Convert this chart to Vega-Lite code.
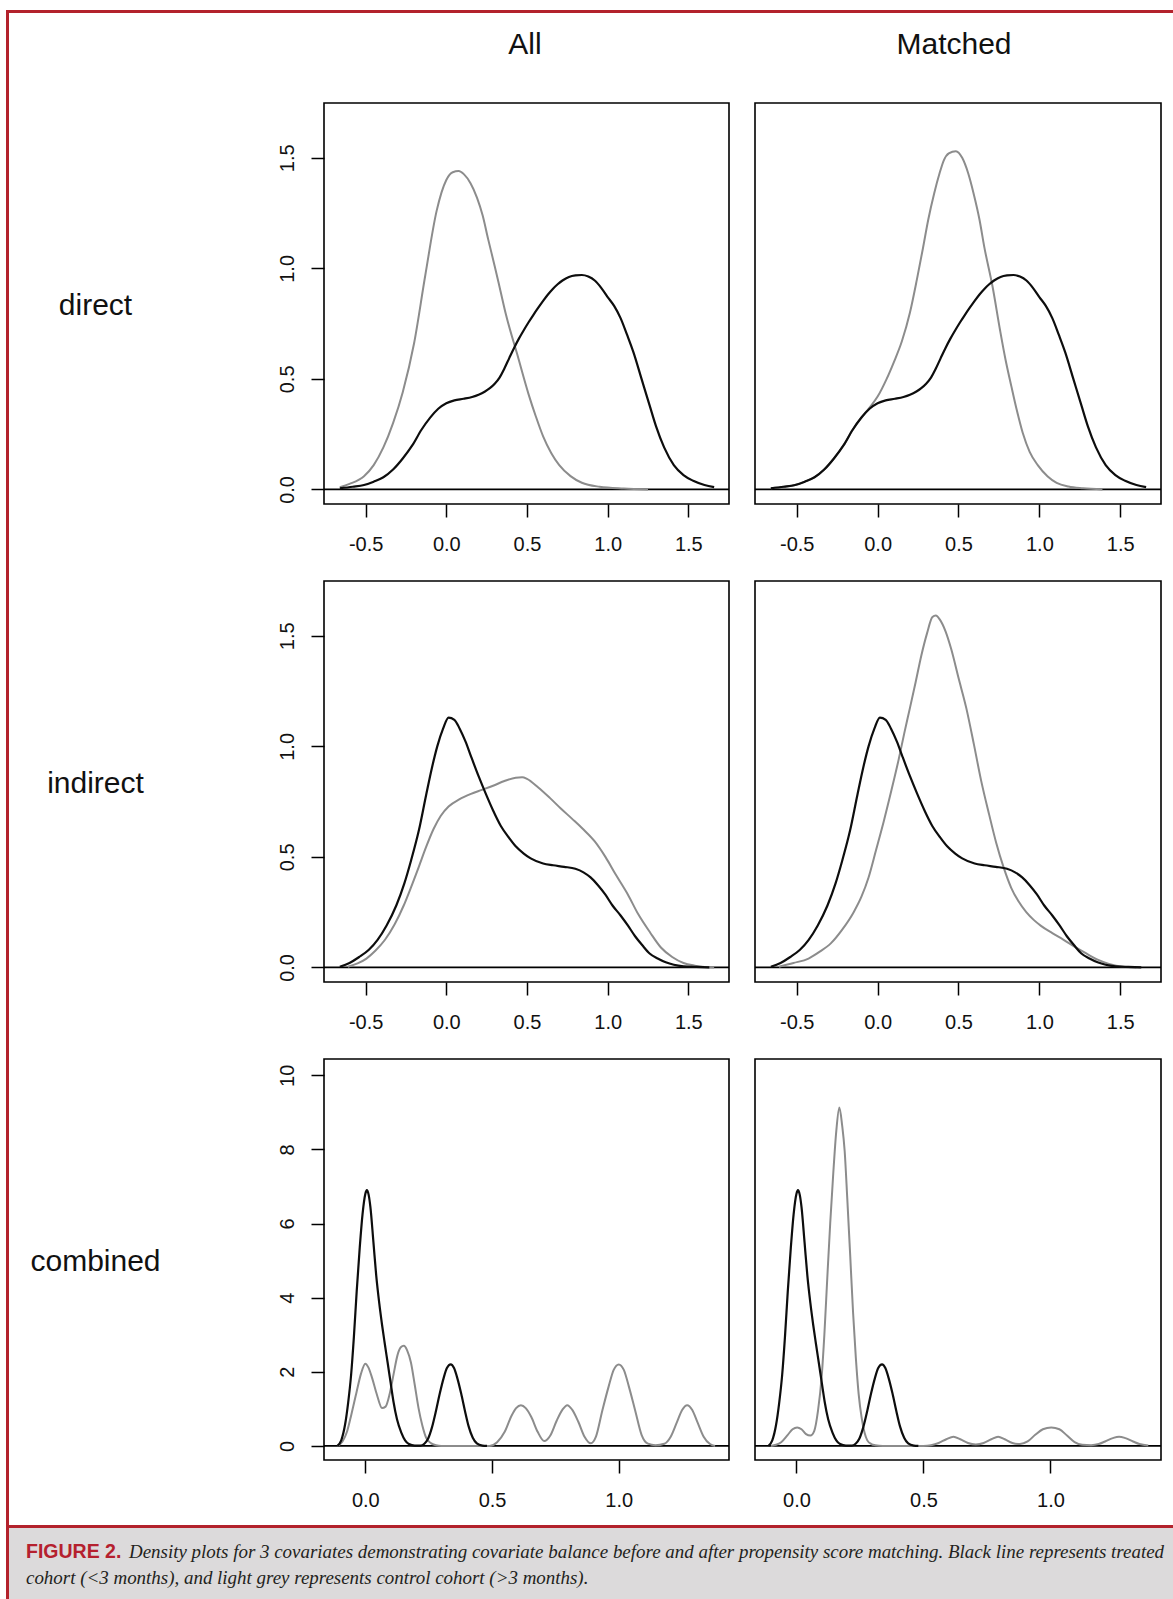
{
  "$schema": "https://vega.github.io/schema/vega-lite/v6.json",
  "padding": {"left": 6, "top": 10, "right": 0, "bottom": 0},
  "background": "#ffffff",
  "spacing": 0,
  "datasets": {
    "direct_treated": [
      {"x":-0.66,"y":0.005},{"x":-0.58,"y":0.012},{"x":-0.51,"y":0.02},{"x":-0.45,"y":0.035},{"x":-0.39,"y":0.055},{"x":-0.33,"y":0.09},{"x":-0.27,"y":0.14},{"x":-0.21,"y":0.2},{"x":-0.154,"y":0.27},{"x":-0.1,"y":0.325},{"x":-0.05,"y":0.365},{"x":0.0,"y":0.39},{"x":0.05,"y":0.403},{"x":0.107,"y":0.41},{"x":0.16,"y":0.418},{"x":0.2,"y":0.428},{"x":0.24,"y":0.443},{"x":0.27,"y":0.458},{"x":0.3,"y":0.478},{"x":0.33,"y":0.506},{"x":0.36,"y":0.547},{"x":0.39,"y":0.594},{"x":0.42,"y":0.64},{"x":0.45,"y":0.682},{"x":0.48,"y":0.72},{"x":0.51,"y":0.756},{"x":0.54,"y":0.79},{"x":0.57,"y":0.822},{"x":0.6,"y":0.853},{"x":0.63,"y":0.882},{"x":0.66,"y":0.907},{"x":0.69,"y":0.928},{"x":0.72,"y":0.945},{"x":0.76,"y":0.961},{"x":0.8,"y":0.968},{"x":0.84,"y":0.97},{"x":0.88,"y":0.963},{"x":0.92,"y":0.945},{"x":0.96,"y":0.912},{"x":1.0,"y":0.87},{"x":1.04,"y":0.83},{"x":1.08,"y":0.775},{"x":1.12,"y":0.7},{"x":1.16,"y":0.62},{"x":1.21,"y":0.5},{"x":1.26,"y":0.38},{"x":1.3,"y":0.285},{"x":1.35,"y":0.19},{"x":1.41,"y":0.11},{"x":1.47,"y":0.065},{"x":1.53,"y":0.039},{"x":1.6,"y":0.02},{"x":1.66,"y":0.01}
    ],
    "direct_control_all": [
      {"x":-0.66,"y":0.01},{"x":-0.6,"y":0.025},{"x":-0.51,"y":0.06},{"x":-0.45,"y":0.11},{"x":-0.39,"y":0.19},{"x":-0.33,"y":0.3},{"x":-0.27,"y":0.44},{"x":-0.2,"y":0.66},{"x":-0.13,"y":0.97},{"x":-0.06,"y":1.26},{"x":0.0,"y":1.4},{"x":0.04,"y":1.435},{"x":0.076,"y":1.44},{"x":0.11,"y":1.425},{"x":0.15,"y":1.385},{"x":0.19,"y":1.32},{"x":0.225,"y":1.24},{"x":0.26,"y":1.13},{"x":0.3,"y":1.01},{"x":0.335,"y":0.9},{"x":0.37,"y":0.79},{"x":0.44,"y":0.61},{"x":0.51,"y":0.43},{"x":0.555,"y":0.33},{"x":0.6,"y":0.24},{"x":0.65,"y":0.165},{"x":0.7,"y":0.11},{"x":0.77,"y":0.06},{"x":0.84,"y":0.03},{"x":0.95,"y":0.012},{"x":1.1,"y":0.004},{"x":1.25,"y":0.0}
    ],
    "direct_control_matched": [
      {"x":-0.66,"y":0.005},{"x":-0.58,"y":0.012},{"x":-0.51,"y":0.02},{"x":-0.45,"y":0.035},{"x":-0.39,"y":0.055},{"x":-0.33,"y":0.09},{"x":-0.27,"y":0.14},{"x":-0.21,"y":0.2},{"x":-0.154,"y":0.27},{"x":-0.1,"y":0.325},{"x":-0.05,"y":0.37},{"x":0.0,"y":0.42},{"x":0.056,"y":0.5},{"x":0.1,"y":0.575},{"x":0.15,"y":0.67},{"x":0.2,"y":0.8},{"x":0.243,"y":0.95},{"x":0.28,"y":1.09},{"x":0.313,"y":1.22},{"x":0.35,"y":1.34},{"x":0.383,"y":1.43},{"x":0.41,"y":1.49},{"x":0.44,"y":1.52},{"x":0.484,"y":1.53},{"x":0.523,"y":1.5},{"x":0.56,"y":1.43},{"x":0.593,"y":1.34},{"x":0.63,"y":1.22},{"x":0.66,"y":1.095},{"x":0.71,"y":0.92},{"x":0.757,"y":0.72},{"x":0.79,"y":0.59},{"x":0.827,"y":0.466},{"x":0.86,"y":0.36},{"x":0.897,"y":0.256},{"x":0.94,"y":0.17},{"x":0.99,"y":0.11},{"x":1.05,"y":0.06},{"x":1.107,"y":0.03},{"x":1.18,"y":0.013},{"x":1.27,"y":0.005},{"x":1.39,"y":0.0}
    ],
    "indirect_treated": [
      {"x":-0.66,"y":0.003},{"x":-0.6,"y":0.02},{"x":-0.54,"y":0.047},{"x":-0.48,"y":0.08},{"x":-0.426,"y":0.125},{"x":-0.37,"y":0.19},{"x":-0.31,"y":0.28},{"x":-0.26,"y":0.38},{"x":-0.218,"y":0.485},{"x":-0.17,"y":0.62},{"x":-0.125,"y":0.78},{"x":-0.09,"y":0.9},{"x":-0.056,"y":1.0},{"x":-0.02,"y":1.08},{"x":0.014,"y":1.13},{"x":0.05,"y":1.12},{"x":0.083,"y":1.08},{"x":0.12,"y":1.02},{"x":0.153,"y":0.955},{"x":0.2,"y":0.865},{"x":0.245,"y":0.785},{"x":0.29,"y":0.71},{"x":0.338,"y":0.64},{"x":0.385,"y":0.59},{"x":0.43,"y":0.548},{"x":0.48,"y":0.515},{"x":0.523,"y":0.493},{"x":0.6,"y":0.47},{"x":0.662,"y":0.462},{"x":0.73,"y":0.455},{"x":0.8,"y":0.446},{"x":0.85,"y":0.43},{"x":0.894,"y":0.407},{"x":0.94,"y":0.372},{"x":0.986,"y":0.329},{"x":1.03,"y":0.28},{"x":1.08,"y":0.235},{"x":1.125,"y":0.19},{"x":1.17,"y":0.141},{"x":1.215,"y":0.1},{"x":1.26,"y":0.063},{"x":1.31,"y":0.04},{"x":1.36,"y":0.023},{"x":1.41,"y":0.012},{"x":1.47,"y":0.005},{"x":1.55,"y":0.002},{"x":1.63,"y":0.0}
    ],
    "indirect_control_all": [
      {"x":-0.61,"y":0.003},{"x":-0.55,"y":0.018},{"x":-0.495,"y":0.04},{"x":-0.44,"y":0.075},{"x":-0.38,"y":0.125},{"x":-0.32,"y":0.195},{"x":-0.264,"y":0.28},{"x":-0.22,"y":0.36},{"x":-0.171,"y":0.454},{"x":-0.125,"y":0.545},{"x":-0.079,"y":0.626},{"x":-0.035,"y":0.685},{"x":0.014,"y":0.728},{"x":0.08,"y":0.76},{"x":0.153,"y":0.785},{"x":0.22,"y":0.803},{"x":0.29,"y":0.822},{"x":0.36,"y":0.843},{"x":0.43,"y":0.858},{"x":0.47,"y":0.86},{"x":0.5,"y":0.853},{"x":0.57,"y":0.814},{"x":0.64,"y":0.768},{"x":0.708,"y":0.72},{"x":0.78,"y":0.672},{"x":0.847,"y":0.626},{"x":0.92,"y":0.57},{"x":0.986,"y":0.5},{"x":1.05,"y":0.42},{"x":1.125,"y":0.33},{"x":1.19,"y":0.24},{"x":1.264,"y":0.157},{"x":1.33,"y":0.09},{"x":1.4,"y":0.047},{"x":1.47,"y":0.02},{"x":1.54,"y":0.008},{"x":1.6,"y":0.002},{"x":1.66,"y":0.0}
    ],
    "indirect_control_matched": [
      {"x":-0.61,"y":0.003},{"x":-0.52,"y":0.02},{"x":-0.427,"y":0.04},{"x":-0.36,"y":0.07},{"x":-0.288,"y":0.11},{"x":-0.22,"y":0.17},{"x":-0.148,"y":0.25},{"x":-0.1,"y":0.32},{"x":-0.056,"y":0.407},{"x":-0.01,"y":0.53},{"x":0.037,"y":0.658},{"x":0.085,"y":0.8},{"x":0.13,"y":0.94},{"x":0.165,"y":1.06},{"x":0.2,"y":1.174},{"x":0.235,"y":1.29},{"x":0.27,"y":1.41},{"x":0.305,"y":1.51},{"x":0.339,"y":1.585},{"x":0.36,"y":1.592},{"x":0.385,"y":1.573},{"x":0.42,"y":1.52},{"x":0.455,"y":1.44},{"x":0.5,"y":1.31},{"x":0.548,"y":1.174},{"x":0.595,"y":1.01},{"x":0.64,"y":0.845},{"x":0.69,"y":0.69},{"x":0.733,"y":0.564},{"x":0.78,"y":0.45},{"x":0.826,"y":0.36},{"x":0.87,"y":0.3},{"x":0.919,"y":0.25},{"x":0.965,"y":0.215},{"x":1.01,"y":0.188},{"x":1.08,"y":0.155},{"x":1.15,"y":0.125},{"x":1.22,"y":0.093},{"x":1.29,"y":0.063},{"x":1.36,"y":0.035},{"x":1.43,"y":0.016},{"x":1.52,"y":0.003},{"x":1.6,"y":0.0}
    ],
    "combined_treated": [
      {"x":-0.11,"y":0.0},{"x":-0.095,"y":0.15},{"x":-0.08,"y":0.57},{"x":-0.068,"y":1.15},{"x":-0.056,"y":1.92},{"x":-0.045,"y":2.95},{"x":-0.034,"y":4.17},{"x":-0.022,"y":5.35},{"x":-0.011,"y":6.25},{"x":0.0,"y":6.8},{"x":0.006,"y":6.9},{"x":0.013,"y":6.78},{"x":0.02,"y":6.45},{"x":0.032,"y":5.5},{"x":0.043,"y":4.6},{"x":0.055,"y":3.85},{"x":0.066,"y":3.27},{"x":0.077,"y":2.75},{"x":0.088,"y":2.25},{"x":0.1,"y":1.7},{"x":0.111,"y":1.2},{"x":0.125,"y":0.72},{"x":0.142,"y":0.36},{"x":0.157,"y":0.15},{"x":0.172,"y":0.05},{"x":0.195,"y":0.01},{"x":0.218,"y":0.01},{"x":0.233,"y":0.06},{"x":0.248,"y":0.2},{"x":0.263,"y":0.5},{"x":0.279,"y":0.95},{"x":0.294,"y":1.42},{"x":0.309,"y":1.83},{"x":0.322,"y":2.1},{"x":0.337,"y":2.2},{"x":0.35,"y":2.1},{"x":0.363,"y":1.83},{"x":0.378,"y":1.42},{"x":0.393,"y":0.95},{"x":0.408,"y":0.52},{"x":0.424,"y":0.22},{"x":0.44,"y":0.07},{"x":0.462,"y":0.01},{"x":0.48,"y":0.0}
    ],
    "combined_control_all": [
      {"x":-0.11,"y":0.0},{"x":-0.09,"y":0.12},{"x":-0.072,"y":0.39},{"x":-0.055,"y":0.85},{"x":-0.034,"y":1.47},{"x":-0.017,"y":1.95},{"x":0.0,"y":2.22},{"x":0.012,"y":2.12},{"x":0.027,"y":1.83},{"x":0.045,"y":1.4},{"x":0.066,"y":1.02},{"x":0.08,"y":1.06},{"x":0.096,"y":1.4},{"x":0.112,"y":1.95},{"x":0.127,"y":2.45},{"x":0.14,"y":2.66},{"x":0.152,"y":2.7},{"x":0.165,"y":2.58},{"x":0.18,"y":2.25},{"x":0.195,"y":1.65},{"x":0.21,"y":1.02},{"x":0.225,"y":0.55},{"x":0.24,"y":0.22},{"x":0.26,"y":0.07},{"x":0.279,"y":0.02},{"x":0.3,"y":0.0},{"x":0.49,"y":0.0},{"x":0.52,"y":0.1},{"x":0.55,"y":0.38},{"x":0.576,"y":0.8},{"x":0.595,"y":1.02},{"x":0.614,"y":1.1},{"x":0.633,"y":1.02},{"x":0.655,"y":0.78},{"x":0.68,"y":0.38},{"x":0.706,"y":0.13},{"x":0.73,"y":0.28},{"x":0.755,"y":0.68},{"x":0.778,"y":0.98},{"x":0.797,"y":1.1},{"x":0.816,"y":0.98},{"x":0.84,"y":0.66},{"x":0.865,"y":0.25},{"x":0.89,"y":0.07},{"x":0.91,"y":0.25},{"x":0.935,"y":0.95},{"x":0.96,"y":1.6},{"x":0.98,"y":2.05},{"x":1.0,"y":2.2},{"x":1.02,"y":2.05},{"x":1.04,"y":1.6},{"x":1.065,"y":0.95},{"x":1.09,"y":0.3},{"x":1.115,"y":0.06},{"x":1.145,"y":0.02},{"x":1.18,"y":0.06},{"x":1.205,"y":0.25},{"x":1.23,"y":0.65},{"x":1.25,"y":0.97},{"x":1.27,"y":1.1},{"x":1.29,"y":0.97},{"x":1.31,"y":0.65},{"x":1.335,"y":0.25},{"x":1.36,"y":0.05},{"x":1.38,"y":0.0}
    ],
    "combined_control_matched": [
      {"x":-0.1,"y":0.0},{"x":-0.08,"y":0.03},{"x":-0.06,"y":0.1},{"x":-0.034,"y":0.3},{"x":-0.015,"y":0.45},{"x":0.003,"y":0.5},{"x":0.02,"y":0.45},{"x":0.038,"y":0.32},{"x":0.055,"y":0.28},{"x":0.07,"y":0.4},{"x":0.085,"y":0.95},{"x":0.1,"y":1.92},{"x":0.11,"y":3.0},{"x":0.122,"y":4.6},{"x":0.133,"y":6.0},{"x":0.145,"y":7.35},{"x":0.157,"y":8.5},{"x":0.169,"y":9.13},{"x":0.18,"y":8.65},{"x":0.19,"y":7.95},{"x":0.2,"y":6.7},{"x":0.212,"y":5.1},{"x":0.223,"y":3.6},{"x":0.234,"y":2.37},{"x":0.245,"y":1.4},{"x":0.257,"y":0.75},{"x":0.268,"y":0.36},{"x":0.279,"y":0.15},{"x":0.295,"y":0.05},{"x":0.31,"y":0.02},{"x":0.34,"y":0.0},{"x":0.5,"y":0.0},{"x":0.53,"y":0.02},{"x":0.56,"y":0.08},{"x":0.59,"y":0.18},{"x":0.618,"y":0.25},{"x":0.645,"y":0.18},{"x":0.675,"y":0.08},{"x":0.706,"y":0.04},{"x":0.737,"y":0.08},{"x":0.767,"y":0.18},{"x":0.794,"y":0.25},{"x":0.82,"y":0.18},{"x":0.85,"y":0.08},{"x":0.88,"y":0.05},{"x":0.91,"y":0.12},{"x":0.94,"y":0.3},{"x":0.97,"y":0.45},{"x":1.003,"y":0.5},{"x":1.035,"y":0.45},{"x":1.065,"y":0.28},{"x":1.095,"y":0.1},{"x":1.125,"y":0.03},{"x":1.16,"y":0.02},{"x":1.19,"y":0.05},{"x":1.215,"y":0.12},{"x":1.245,"y":0.21},{"x":1.27,"y":0.25},{"x":1.295,"y":0.21},{"x":1.325,"y":0.12},{"x":1.35,"y":0.05},{"x":1.385,"y":0.01}
    ]
  },
  "vconcat": [
    {"data": {"values": [{"edge": "top"}]}, "mark": {"type": "rect", "color": "#b3222c"}, "width": 1167, "height": 3, "view": {"stroke": null}},
    {
      "columns": 4,
      "bounds": "flush",
      "align": "each",
      "spacing": {"row": 0, "column": 26},
      "concat": [
        {"data": {"values": [{"edge": "left"}]}, "mark": {"type": "rect", "color": "#b3222c"}, "width": 3, "height": 90, "view": {"stroke": null}},
        {"data": {"values": []}, "mark": "rect", "width": 263, "height": 90, "view": {"stroke": null}},
        {"data": {"values": [{"label": "All"}]}, "mark": {"type": "text", "font": "Liberation Sans", "fontSize": 30, "baseline": "alphabetic", "align": "center", "dy": -4, "dx": -1.5, "color": "#111111"}, "encoding": {"text": {"field": "label", "type": "nominal"}}, "width": 405, "height": 90, "view": {"stroke": null}},
        {"data": {"values": [{"label": "Matched"}]}, "mark": {"type": "text", "font": "Liberation Sans", "fontSize": 30, "baseline": "alphabetic", "align": "center", "dy": -4, "dx": -4, "color": "#111111"}, "encoding": {"text": {"field": "label", "type": "nominal"}}, "width": 406, "height": 90, "view": {"stroke": null}},

        {"data": {"values": [{"edge": "left"}]}, "mark": {"type": "rect", "color": "#b3222c"}, "width": 3, "height": 401, "view": {"stroke": null}},
        {"data": {"values": []}, "mark": "rect", "width": 263, "height": 401, "view": {"stroke": null}},
        {
          "width": 405, "height": 401,
          "layer": [
            {"data": {"values": [{"y": 0}]}, "mark": {"type": "rule", "color": "#000000", "strokeWidth": 1.6},
             "encoding": {"y": {"field": "y", "type": "quantitative", "scale": {"domain": [-0.066, 1.748], "nice": false, "zero": false}, "axis": {"values": [0, 0.5, 1, 1.5], "labelExpr": "format(datum.value, '.1f')", "labelAngle": 270, "labelAlign": "center", "labelBaseline": "alphabetic", "labelPadding": 17.5, "title": "direct", "titleAngle": 0, "titleAlign": "center", "titleBaseline": "middle", "titleX": -229, "titleY": 202, "titleFontSize": 30, "titleFontWeight": "normal", "titleFont": "Liberation Sans", "titleColor": "#111111"}}}},
            {"data": {"name": "direct_control_all"}, "mark": {"type": "line", "color": "#8c8c8c", "strokeWidth": 2, "interpolate": "monotone"},
             "encoding": {
               "x": {"field": "x", "type": "quantitative", "scale": {"domain": [-0.758, 1.752], "nice": false, "zero": false}, "axis": {"values": [-0.5, 0, 0.5, 1, 1.5], "labelExpr": "replace(format(datum.value, '.1f'), '−', '-')", "labelAngle": 0, "labelAlign": "center", "labelBaseline": "alphabetic", "labelPadding": 33, "title": null}},
               "y": {"field": "y", "type": "quantitative", "scale": {"domain": [-0.066, 1.748], "nice": false, "zero": false}, "axis": {"values": [0, 0.5, 1, 1.5], "labelExpr": "format(datum.value, '.1f')", "labelAngle": 270, "labelAlign": "center", "labelBaseline": "alphabetic", "labelPadding": 17.5, "title": "direct", "titleAngle": 0, "titleAlign": "center", "titleBaseline": "middle", "titleX": -229, "titleY": 202, "titleFontSize": 30, "titleFontWeight": "normal", "titleFont": "Liberation Sans", "titleColor": "#111111"}}}},
            {"data": {"name": "direct_treated"}, "mark": {"type": "line", "color": "#0d0d0d", "strokeWidth": 2.2, "interpolate": "monotone"},
             "encoding": {
               "x": {"field": "x", "type": "quantitative", "scale": {"domain": [-0.758, 1.752], "nice": false, "zero": false}, "axis": {"values": [-0.5, 0, 0.5, 1, 1.5], "labelExpr": "replace(format(datum.value, '.1f'), '−', '-')", "labelAngle": 0, "labelAlign": "center", "labelBaseline": "alphabetic", "labelPadding": 33, "title": null}},
               "y": {"field": "y", "type": "quantitative", "scale": {"domain": [-0.066, 1.748], "nice": false, "zero": false}, "axis": {"values": [0, 0.5, 1, 1.5], "labelExpr": "format(datum.value, '.1f')", "labelAngle": 270, "labelAlign": "center", "labelBaseline": "alphabetic", "labelPadding": 17.5, "title": "direct", "titleAngle": 0, "titleAlign": "center", "titleBaseline": "middle", "titleX": -229, "titleY": 202, "titleFontSize": 30, "titleFontWeight": "normal", "titleFont": "Liberation Sans", "titleColor": "#111111"}}}}
          ]
        },
        {
          "width": 406, "height": 401,
          "layer": [
            {"data": {"values": [{"y": 0}]}, "mark": {"type": "rule", "color": "#000000", "strokeWidth": 1.6},
             "encoding": {"y": {"field": "y", "type": "quantitative", "scale": {"domain": [-0.066, 1.748], "nice": false, "zero": false}, "axis": null}}},
            {"data": {"name": "direct_control_matched"}, "mark": {"type": "line", "color": "#8c8c8c", "strokeWidth": 2, "interpolate": "monotone"},
             "encoding": {
               "x": {"field": "x", "type": "quantitative", "scale": {"domain": [-0.758, 1.752], "nice": false, "zero": false}, "axis": {"values": [-0.5, 0, 0.5, 1, 1.5], "labelExpr": "replace(format(datum.value, '.1f'), '−', '-')", "labelAngle": 0, "labelAlign": "center", "labelBaseline": "alphabetic", "labelPadding": 33, "title": null}},
               "y": {"field": "y", "type": "quantitative", "scale": {"domain": [-0.066, 1.748], "nice": false, "zero": false}, "axis": null}}},
            {"data": {"name": "direct_treated"}, "mark": {"type": "line", "color": "#0d0d0d", "strokeWidth": 2.2, "interpolate": "monotone"},
             "encoding": {
               "x": {"field": "x", "type": "quantitative", "scale": {"domain": [-0.758, 1.752], "nice": false, "zero": false}, "axis": {"values": [-0.5, 0, 0.5, 1, 1.5], "labelExpr": "replace(format(datum.value, '.1f'), '−', '-')", "labelAngle": 0, "labelAlign": "center", "labelBaseline": "alphabetic", "labelPadding": 33, "title": null}},
               "y": {"field": "y", "type": "quantitative", "scale": {"domain": [-0.066, 1.748], "nice": false, "zero": false}, "axis": null}}}
          ]
        },

        {"data": {"values": [{"edge": "left"}]}, "mark": {"type": "rect", "color": "#b3222c"}, "width": 3, "height": 77, "view": {"stroke": null}},
        {"data": {"values": []}, "mark": "rect", "width": 263, "height": 77, "view": {"stroke": null}},
        {"data": {"values": []}, "mark": "rect", "width": 405, "height": 77, "view": {"stroke": null}},
        {"data": {"values": []}, "mark": "rect", "width": 406, "height": 77, "view": {"stroke": null}},

        {"data": {"values": [{"edge": "left"}]}, "mark": {"type": "rect", "color": "#b3222c"}, "width": 3, "height": 401, "view": {"stroke": null}},
        {"data": {"values": []}, "mark": "rect", "width": 263, "height": 401, "view": {"stroke": null}},
        {
          "width": 405, "height": 401,
          "layer": [
            {"data": {"values": [{"y": 0}]}, "mark": {"type": "rule", "color": "#000000", "strokeWidth": 1.6},
             "encoding": {"y": {"field": "y", "type": "quantitative", "scale": {"domain": [-0.066, 1.748], "nice": false, "zero": false}, "axis": {"values": [0, 0.5, 1, 1.5], "labelExpr": "format(datum.value, '.1f')", "labelAngle": 270, "labelAlign": "center", "labelBaseline": "alphabetic", "labelPadding": 17.5, "title": "indirect", "titleAngle": 0, "titleAlign": "center", "titleBaseline": "middle", "titleX": -229, "titleY": 202, "titleFontSize": 30, "titleFontWeight": "normal", "titleFont": "Liberation Sans", "titleColor": "#111111"}}}},
            {"data": {"name": "indirect_control_all"}, "mark": {"type": "line", "color": "#8c8c8c", "strokeWidth": 2, "interpolate": "monotone"},
             "encoding": {
               "x": {"field": "x", "type": "quantitative", "scale": {"domain": [-0.758, 1.752], "nice": false, "zero": false}, "axis": {"values": [-0.5, 0, 0.5, 1, 1.5], "labelExpr": "replace(format(datum.value, '.1f'), '−', '-')", "labelAngle": 0, "labelAlign": "center", "labelBaseline": "alphabetic", "labelPadding": 33, "title": null}},
               "y": {"field": "y", "type": "quantitative", "scale": {"domain": [-0.066, 1.748], "nice": false, "zero": false}, "axis": {"values": [0, 0.5, 1, 1.5], "labelExpr": "format(datum.value, '.1f')", "labelAngle": 270, "labelAlign": "center", "labelBaseline": "alphabetic", "labelPadding": 17.5, "title": "indirect", "titleAngle": 0, "titleAlign": "center", "titleBaseline": "middle", "titleX": -229, "titleY": 202, "titleFontSize": 30, "titleFontWeight": "normal", "titleFont": "Liberation Sans", "titleColor": "#111111"}}}},
            {"data": {"name": "indirect_treated"}, "mark": {"type": "line", "color": "#0d0d0d", "strokeWidth": 2.2, "interpolate": "monotone"},
             "encoding": {
               "x": {"field": "x", "type": "quantitative", "scale": {"domain": [-0.758, 1.752], "nice": false, "zero": false}, "axis": {"values": [-0.5, 0, 0.5, 1, 1.5], "labelExpr": "replace(format(datum.value, '.1f'), '−', '-')", "labelAngle": 0, "labelAlign": "center", "labelBaseline": "alphabetic", "labelPadding": 33, "title": null}},
               "y": {"field": "y", "type": "quantitative", "scale": {"domain": [-0.066, 1.748], "nice": false, "zero": false}, "axis": {"values": [0, 0.5, 1, 1.5], "labelExpr": "format(datum.value, '.1f')", "labelAngle": 270, "labelAlign": "center", "labelBaseline": "alphabetic", "labelPadding": 17.5, "title": "indirect", "titleAngle": 0, "titleAlign": "center", "titleBaseline": "middle", "titleX": -229, "titleY": 202, "titleFontSize": 30, "titleFontWeight": "normal", "titleFont": "Liberation Sans", "titleColor": "#111111"}}}}
          ]
        },
        {
          "width": 406, "height": 401,
          "layer": [
            {"data": {"values": [{"y": 0}]}, "mark": {"type": "rule", "color": "#000000", "strokeWidth": 1.6},
             "encoding": {"y": {"field": "y", "type": "quantitative", "scale": {"domain": [-0.066, 1.748], "nice": false, "zero": false}, "axis": null}}},
            {"data": {"name": "indirect_control_matched"}, "mark": {"type": "line", "color": "#8c8c8c", "strokeWidth": 2, "interpolate": "monotone"},
             "encoding": {
               "x": {"field": "x", "type": "quantitative", "scale": {"domain": [-0.758, 1.752], "nice": false, "zero": false}, "axis": {"values": [-0.5, 0, 0.5, 1, 1.5], "labelExpr": "replace(format(datum.value, '.1f'), '−', '-')", "labelAngle": 0, "labelAlign": "center", "labelBaseline": "alphabetic", "labelPadding": 33, "title": null}},
               "y": {"field": "y", "type": "quantitative", "scale": {"domain": [-0.066, 1.748], "nice": false, "zero": false}, "axis": null}}},
            {"data": {"name": "indirect_treated"}, "mark": {"type": "line", "color": "#0d0d0d", "strokeWidth": 2.2, "interpolate": "monotone"},
             "encoding": {
               "x": {"field": "x", "type": "quantitative", "scale": {"domain": [-0.758, 1.752], "nice": false, "zero": false}, "axis": {"values": [-0.5, 0, 0.5, 1, 1.5], "labelExpr": "replace(format(datum.value, '.1f'), '−', '-')", "labelAngle": 0, "labelAlign": "center", "labelBaseline": "alphabetic", "labelPadding": 33, "title": null}},
               "y": {"field": "y", "type": "quantitative", "scale": {"domain": [-0.066, 1.748], "nice": false, "zero": false}, "axis": null}}}
          ]
        },

        {"data": {"values": [{"edge": "left"}]}, "mark": {"type": "rect", "color": "#b3222c"}, "width": 3, "height": 77, "view": {"stroke": null}},
        {"data": {"values": []}, "mark": "rect", "width": 263, "height": 77, "view": {"stroke": null}},
        {"data": {"values": []}, "mark": "rect", "width": 405, "height": 77, "view": {"stroke": null}},
        {"data": {"values": []}, "mark": "rect", "width": 406, "height": 77, "view": {"stroke": null}},

        {"data": {"values": [{"edge": "left"}]}, "mark": {"type": "rect", "color": "#b3222c"}, "width": 3, "height": 401, "view": {"stroke": null}},
        {"data": {"values": []}, "mark": "rect", "width": 263, "height": 401, "view": {"stroke": null}},
        {
          "width": 405, "height": 401,
          "layer": [
            {"data": {"values": [{"y": 0}]}, "mark": {"type": "rule", "color": "#000000", "strokeWidth": 1.6},
             "encoding": {"y": {"field": "y", "type": "quantitative", "scale": {"domain": [-0.38, 10.44], "nice": false, "zero": false}, "axis": {"values": [0, 2, 4, 6, 8, 10], "format": "d", "labelAngle": 270, "labelAlign": "center", "labelBaseline": "alphabetic", "labelPadding": 17.5, "title": "combined", "titleAngle": 0, "titleAlign": "center", "titleBaseline": "middle", "titleX": -229, "titleY": 202, "titleFontSize": 30, "titleFontWeight": "normal", "titleFont": "Liberation Sans", "titleColor": "#111111"}}}},
            {"data": {"name": "combined_control_all"}, "mark": {"type": "line", "color": "#8c8c8c", "strokeWidth": 2, "interpolate": "monotone"},
             "encoding": {
               "x": {"field": "x", "type": "quantitative", "scale": {"domain": [-0.163, 1.435], "nice": false, "zero": false}, "axis": {"values": [0, 0.5, 1], "labelExpr": "format(datum.value, '.1f')", "labelAngle": 0, "labelAlign": "center", "labelBaseline": "alphabetic", "labelPadding": 33, "title": null}},
               "y": {"field": "y", "type": "quantitative", "scale": {"domain": [-0.38, 10.44], "nice": false, "zero": false}, "axis": {"values": [0, 2, 4, 6, 8, 10], "format": "d", "labelAngle": 270, "labelAlign": "center", "labelBaseline": "alphabetic", "labelPadding": 17.5, "title": "combined", "titleAngle": 0, "titleAlign": "center", "titleBaseline": "middle", "titleX": -229, "titleY": 202, "titleFontSize": 30, "titleFontWeight": "normal", "titleFont": "Liberation Sans", "titleColor": "#111111"}}}},
            {"data": {"name": "combined_treated"}, "mark": {"type": "line", "color": "#0d0d0d", "strokeWidth": 2.2, "interpolate": "monotone"},
             "encoding": {
               "x": {"field": "x", "type": "quantitative", "scale": {"domain": [-0.163, 1.435], "nice": false, "zero": false}, "axis": {"values": [0, 0.5, 1], "labelExpr": "format(datum.value, '.1f')", "labelAngle": 0, "labelAlign": "center", "labelBaseline": "alphabetic", "labelPadding": 33, "title": null}},
               "y": {"field": "y", "type": "quantitative", "scale": {"domain": [-0.38, 10.44], "nice": false, "zero": false}, "axis": {"values": [0, 2, 4, 6, 8, 10], "format": "d", "labelAngle": 270, "labelAlign": "center", "labelBaseline": "alphabetic", "labelPadding": 17.5, "title": "combined", "titleAngle": 0, "titleAlign": "center", "titleBaseline": "middle", "titleX": -229, "titleY": 202, "titleFontSize": 30, "titleFontWeight": "normal", "titleFont": "Liberation Sans", "titleColor": "#111111"}}}}
          ]
        },
        {
          "width": 406, "height": 401,
          "layer": [
            {"data": {"values": [{"y": 0}]}, "mark": {"type": "rule", "color": "#000000", "strokeWidth": 1.6},
             "encoding": {"y": {"field": "y", "type": "quantitative", "scale": {"domain": [-0.38, 10.44], "nice": false, "zero": false}, "axis": null}}},
            {"data": {"name": "combined_control_matched"}, "mark": {"type": "line", "color": "#8c8c8c", "strokeWidth": 2, "interpolate": "monotone"},
             "encoding": {
               "x": {"field": "x", "type": "quantitative", "scale": {"domain": [-0.163, 1.435], "nice": false, "zero": false}, "axis": {"values": [0, 0.5, 1], "labelExpr": "format(datum.value, '.1f')", "labelAngle": 0, "labelAlign": "center", "labelBaseline": "alphabetic", "labelPadding": 33, "title": null}},
               "y": {"field": "y", "type": "quantitative", "scale": {"domain": [-0.38, 10.44], "nice": false, "zero": false}, "axis": null}}},
            {"data": {"name": "combined_treated"}, "mark": {"type": "line", "color": "#0d0d0d", "strokeWidth": 2.2, "interpolate": "monotone"},
             "encoding": {
               "x": {"field": "x", "type": "quantitative", "scale": {"domain": [-0.163, 1.435], "nice": false, "zero": false}, "axis": {"values": [0, 0.5, 1], "labelExpr": "format(datum.value, '.1f')", "labelAngle": 0, "labelAlign": "center", "labelBaseline": "alphabetic", "labelPadding": 33, "title": null}},
               "y": {"field": "y", "type": "quantitative", "scale": {"domain": [-0.38, 10.44], "nice": false, "zero": false}, "axis": null}}}
          ]
        },

        {"data": {"values": [{"edge": "left"}]}, "mark": {"type": "rect", "color": "#b3222c"}, "width": 3, "height": 65, "view": {"stroke": null}},
        {"data": {"values": []}, "mark": "rect", "width": 263, "height": 65, "view": {"stroke": null}},
        {"data": {"values": []}, "mark": "rect", "width": 405, "height": 65, "view": {"stroke": null}},
        {"data": {"values": []}, "mark": "rect", "width": 406, "height": 65, "view": {"stroke": null}}
      ]
    },
    {"data": {"values": [{"edge": "separator"}]}, "mark": {"type": "rect", "color": "#b3222c"}, "width": 1167, "height": 3, "view": {"stroke": null}},
    {
      "hconcat": [
        {"data": {"values": [{"edge": "caption-left"}]}, "mark": {"type": "rect", "color": "#b3222c"}, "width": 3, "height": 71, "view": {"stroke": null}},
        {
          "width": 1164, "height": 71,
          "view": {"fill": "#dcdadb", "stroke": null},
          "data": {"values": [
            {"part": "label", "text": "FIGURE 2."},
            {"part": "line1", "text": "Density plots for 3 covariates demonstrating covariate balance before and after propensity score matching. Black line represents treated"},
            {"part": "line2", "text": "cohort (<3 months), and light grey represents control cohort (>3 months)."}
          ]},
          "layer": [
            {"transform": [{"filter": "datum.part === 'label'"}],
             "mark": {"type": "text", "x": 17, "y": 30, "align": "left", "baseline": "alphabetic", "font": "Liberation Sans", "fontWeight": "bold", "fontSize": 19.5, "color": "#b5202e"},
             "encoding": {"text": {"field": "text", "type": "nominal"}}},
            {"transform": [{"filter": "datum.part === 'line1'"}],
             "mark": {"type": "text", "x": 120, "y": 30, "align": "left", "baseline": "alphabetic", "font": "Liberation Serif", "fontStyle": "italic", "fontSize": 18.95, "color": "#231f20"},
             "encoding": {"text": {"field": "text", "type": "nominal"}}},
            {"transform": [{"filter": "datum.part === 'line2'"}],
             "mark": {"type": "text", "x": 17, "y": 56, "align": "left", "baseline": "alphabetic", "font": "Liberation Serif", "fontStyle": "italic", "fontSize": 18.95, "color": "#231f20"},
             "encoding": {"text": {"field": "text", "type": "nominal"}}}
          ]
        }
      ],
      "spacing": 0
    }
  ],
  "config": {
    "view": {"stroke": "#000000", "strokeWidth": 1.6},
    "axis": {"domain": false, "grid": false, "ticks": true, "tickSize": 13, "tickWidth": 1.5, "tickColor": "#000000", "labelFont": "Liberation Sans", "labelFontSize": 20, "labelColor": "#111111", "labelFlush": false, "labelOverlap": false, "labelBound": false},
    "text": {"font": "Liberation Sans"}
  }
}
